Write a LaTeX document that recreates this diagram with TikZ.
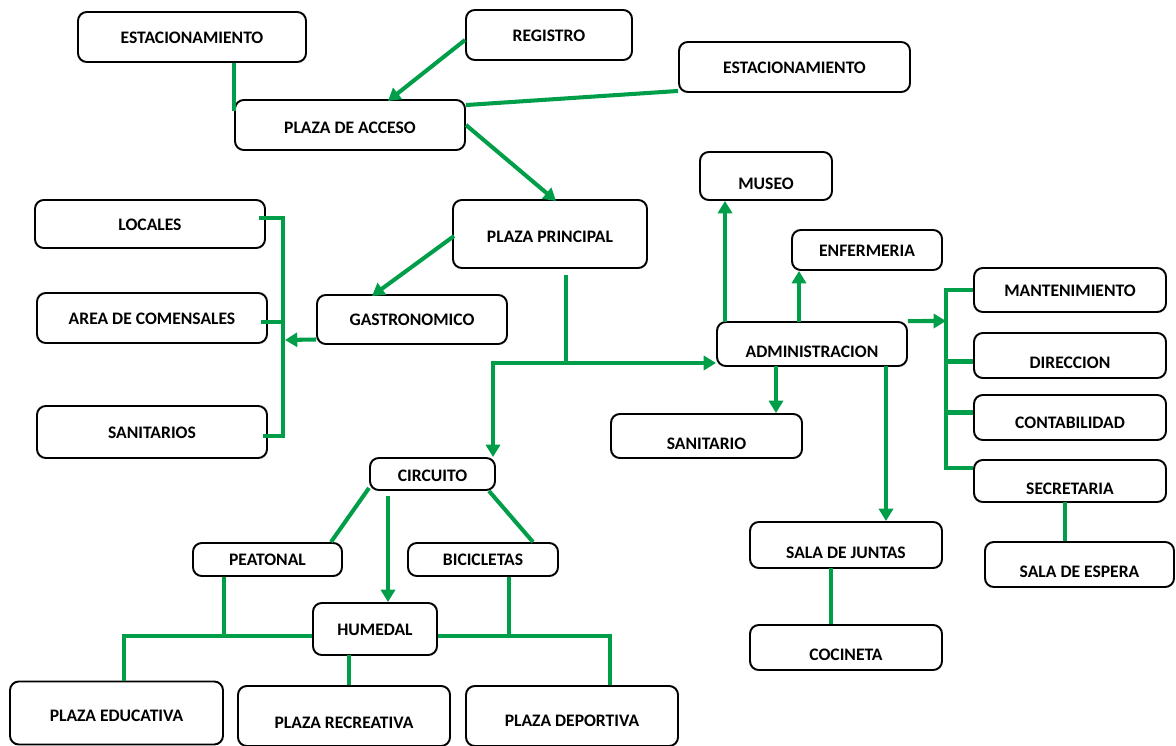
\documentclass[tikz,border=0pt]{standalone}
\usepackage{fontspec}
\setmainfont{Carlito}
\usetikzlibrary{arrows.meta,calc}
\definecolor{lgreen}{RGB}{0,158,73}
\begin{document}
\begin{tikzpicture}[x=0.02cm,y=-0.02cm,
  box/.style={draw=black,line width=1.1pt,rounded corners=5pt,fill=white,
    font=\fontsize{10}{12}\selectfont\bfseries,inner sep=0pt,text height=7pt,text depth=0pt},
  low/.style={text height=15pt},
  conn/.style={draw=lgreen,line width=2.3pt},
  arr/.style={conn,-{Triangle[length=7pt,width=8pt]}}]
\useasboundingbox (0,0) rectangle (1176,746);
% boxes
\node[box,minimum width=228*0.02cm,minimum height=50*0.02cm] (est1) at (192,37) {ESTACIONAMIENTO};
\node[box,minimum width=166*0.02cm,minimum height=50*0.02cm] (reg) at (549,35) {REGISTRO};
\node[box,minimum width=231*0.02cm,minimum height=50*0.02cm] (est2) at (794.5,67) {ESTACIONAMIENTO};
\node[box,minimum width=230*0.02cm,minimum height=50*0.02cm,text height=10pt] (pda) at (350,125) {PLAZA DE ACCESO};
\node[box,low,minimum width=132*0.02cm,minimum height=48*0.02cm] (museo) at (766,176) {MUSEO};
\node[box,minimum width=194*0.02cm,minimum height=68*0.02cm,text height=10pt] (pp) at (550,234) {PLAZA PRINCIPAL};
\node[box,minimum width=230*0.02cm,minimum height=48*0.02cm] (loc) at (150,224) {LOCALES};
\node[box,minimum width=230*0.02cm,minimum height=50*0.02cm] (com) at (152,318) {AREA DE COMENSALES};
\node[box,minimum width=190*0.02cm,minimum height=49*0.02cm] (gas) at (412,319.5) {GASTRONOMICO};
\node[box,minimum width=230*0.02cm,minimum height=52*0.02cm] (sans) at (152,432) {SANITARIOS};
\node[box,minimum width=150*0.02cm,minimum height=40*0.02cm] (enf) at (867,250) {ENFERMERIA};
\node[box,minimum width=192*0.02cm,minimum height=44*0.02cm] (mant) at (1070,290) {MANTENIMIENTO};
\node[box,low,minimum width=190*0.02cm,minimum height=44*0.02cm] (adm) at (812,344) {ADMINISTRACION};
\node[box,low,minimum width=192*0.02cm,minimum height=45*0.02cm] (dir) at (1070,355.5) {DIRECCION};
\node[box,low,minimum width=191*0.02cm,minimum height=44*0.02cm] (sani) at (706.5,436) {SANITARIO};
\node[box,minimum width=192*0.02cm,minimum height=45*0.02cm,text height=12pt] (cont) at (1070,417.5) {CONTABILIDAD};
\node[box,minimum width=125*0.02cm,minimum height=32*0.02cm,text height=9pt] (circ) at (432.5,474) {CIRCUITO};
\node[box,low,minimum width=192*0.02cm,minimum height=42*0.02cm] (sec) at (1070,481) {SECRETARIA};
\node[box,minimum width=149*0.02cm,minimum height=33*0.02cm] (peat) at (267.5,559.5) {PEATONAL};
\node[box,minimum width=150*0.02cm,minimum height=33*0.02cm] (bic) at (483,559.5) {BICICLETAS};
\node[box,low,minimum width=192*0.02cm,minimum height=46*0.02cm] (sdj) at (846,545) {SALA DE JUNTAS};
\node[box,low,minimum width=189*0.02cm,minimum height=45*0.02cm] (esp) at (1079.5,564.5) {SALA DE ESPERA};
\node[box,minimum width=124*0.02cm,minimum height=52*0.02cm] (hum) at (375,629) {HUMEDAL};
\node[box,low,minimum width=192*0.02cm,minimum height=45*0.02cm] (coc) at (846,647.5) {COCINETA};
\node[box,minimum width=213*0.02cm,minimum height=63*0.02cm,text height=10pt] (edu) at (116.5,713) {PLAZA EDUCATIVA};
\node[box,minimum width=212*0.02cm,minimum height=60*0.02cm,text height=14pt] (rec) at (344,716) {PLAZA RECREATIVA};
\node[box,minimum width=212*0.02cm,minimum height=60*0.02cm,text height=12pt] (dep) at (572,716) {PLAZA DEPORTIVA};
% junction coordinates
\coordinate (lbt) at (283,218);
\coordinate (lbb) at (283,436);
\coordinate (gin) at (285,340);
\coordinate (pj) at (566,363);
\coordinate (cl) at (493,363);
\coordinate (am) at (725,322);
\coordinate (ae) at (799,322);
\coordinate (ab) at (946,321);
\coordinate (rbt) at (946,292);
\coordinate (rbb) at (946,468);
\coordinate (as) at (776,366);
\coordinate (aj) at (886,366);
\coordinate (ch) at (388,496);
\coordinate (pb) at (224,636);
\coordinate (eb) at (124,636);
\coordinate (bb) at (509,636);
\coordinate (db) at (610,636);
\coordinate (hr) at (349,655);
\coordinate (sj) at (831,568);
\coordinate (se) at (1065,502);
% connectors top
\draw[conn] (est1.south -| pda.west) -- ($(pda.north west)+(0,12)$);
\draw[arr] ($(reg.west)+(0,5)$) -- ($(pda.north)+(38,2)$);
\draw[conn] ($(est2.south west)+(0,-2)$) -- ($(pda.north east)+(0,6)$);
\draw[arr] (pda.east) -- ($(pp.north)+(6,2)$);
\draw[arr] ($(pp.west)+(2,2)$) -- ($(gas.north)+(-40,2)$);
% left bracket
\draw[arr] ($(gas.west)+(0,20)$) -- (gin);
\draw[conn] ($(loc.east)+(-7,-6)$) -- (lbt) -- (lbb) -- ($(sans.east)+(-5,4)$);
\draw[conn] ($(com.east)+(-7,4)$) -- ($(lbt |- com.east)+(0,4)$);
% plaza principal split
\draw[conn] ($(pp.south)+(16,6)$) -- (pj);
\draw[arr] (pj) -- (cl) -- (cl |- circ.north);
\draw[arr] (pj) -- (pj -| adm.west);
% administracion
\draw[arr] (am) -- (am |- museo.south);
\draw[arr] (ae) -- (ae |- enf.south);
\draw[arr] (adm.north east) -- (ab);
\draw[conn] (mant.west) -- (mant.west -| rbt) -- (rbb) -- (rbb -| sec.west);
\draw[conn] ($(rbt |- dir.west)+(0,6)$) -- ($(dir.west)+(0,6)$);
\draw[conn] ($(rbt |- cont.west)+(0,-5)$) -- ($(cont.west)+(0,-5)$);
\draw[arr] (as) -- (as |- sani.north);
\draw[arr] (aj) -- (aj |- sdj.north);
\draw[conn] (sj) -- (sj |- coc.north);
\draw[conn] (se) -- (se |- esp.north);
% circuito
\draw[conn] ($(circ.south west)+(0,-3)$) -- ($(peat.north east)+(-12,0)$);
\draw[arr] (ch) -- (ch |- hum.north);
\draw[conn] ($(circ.south east)+(-7,0)$) -- ($(bic.north)+(50,0)$);
% humedal bus
\draw[conn] (pb |- peat.south) -- (pb);
\draw[conn] (pb -| hum.west) -- (eb) -- (eb |- edu.north);
\draw[conn] (bb |- bic.south) -- (bb);
\draw[conn] (bb -| hum.east) -- (db) -- (db |- dep.north);
\draw[conn] (hr) -- (hr |- rec.north);
\end{tikzpicture}
\end{document}
